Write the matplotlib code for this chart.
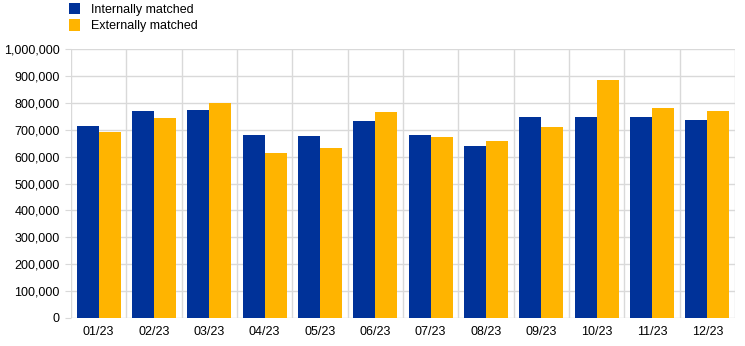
import matplotlib
matplotlib.use("Agg")
import matplotlib.pyplot as plt
import numpy as np
from matplotlib.ticker import FuncFormatter, MultipleLocator, FixedLocator

plt.rcParams['font.family'] = ['Liberation Sans', 'DejaVu Sans']

categories = ["01/23", "02/23", "03/23", "04/23", "05/23", "06/23",
              "07/23", "08/23", "09/23", "10/23", "11/23", "12/23"]
internally = [712000, 768000, 775000, 679000, 675000, 731000,
              679000, 638000, 749000, 746000, 749000, 735000]
externally = [690000, 742000, 798000, 612000, 631000, 764000,
              672000, 657000, 709000, 886000, 779000, 768000]

blue = "#003299"
orange = "#FFB400"
grid_c = "#d9d9d9"

fig = plt.figure(figsize=(7.45, 3.46), dpi=100)
ax = fig.add_axes([71/745, 28/346, (735-71)/745, (318-49)/346])

x = np.arange(len(categories))
w = 0.4
b1 = ax.bar(x - w/2, internally, w, color=blue, label="Internally matched", zorder=3)
b2 = ax.bar(x + w/2, externally, w, color=orange, label="Externally matched", zorder=3)

ax.set_xlim(-0.5, len(categories) - 0.5)
ax.set_ylim(0, 1000000)
ax.yaxis.set_major_locator(MultipleLocator(100000))
ax.yaxis.set_major_formatter(FuncFormatter(lambda v, p: f"{int(v):,}"))
ax.set_xticks(x)
ax.set_xticklabels(categories)
ax.xaxis.set_minor_locator(FixedLocator(np.arange(-0.5, len(categories), 1.0)))

ax.grid(axis='y', which='major', color=grid_c, linewidth=1, zorder=0)
ax.grid(axis='x', which='minor', color=grid_c, linewidth=1, zorder=0)
for s in ax.spines.values():
    s.set_visible(False)
ax.tick_params(axis='x', which='both', length=0, labelsize=9, colors="#000000", pad=6)
ax.tick_params(axis='y', length=4, color=grid_c, labelsize=9, pad=4)

fig.legend(handles=[b1, b2], loc='upper left', bbox_to_anchor=(0.083, 1.013),
           frameon=False, fontsize=9, handlelength=0.85, handleheight=1.0,
           handletextpad=0.9, labelspacing=0.28, borderaxespad=0.2)

fig.savefig("out.png", dpi=100)
